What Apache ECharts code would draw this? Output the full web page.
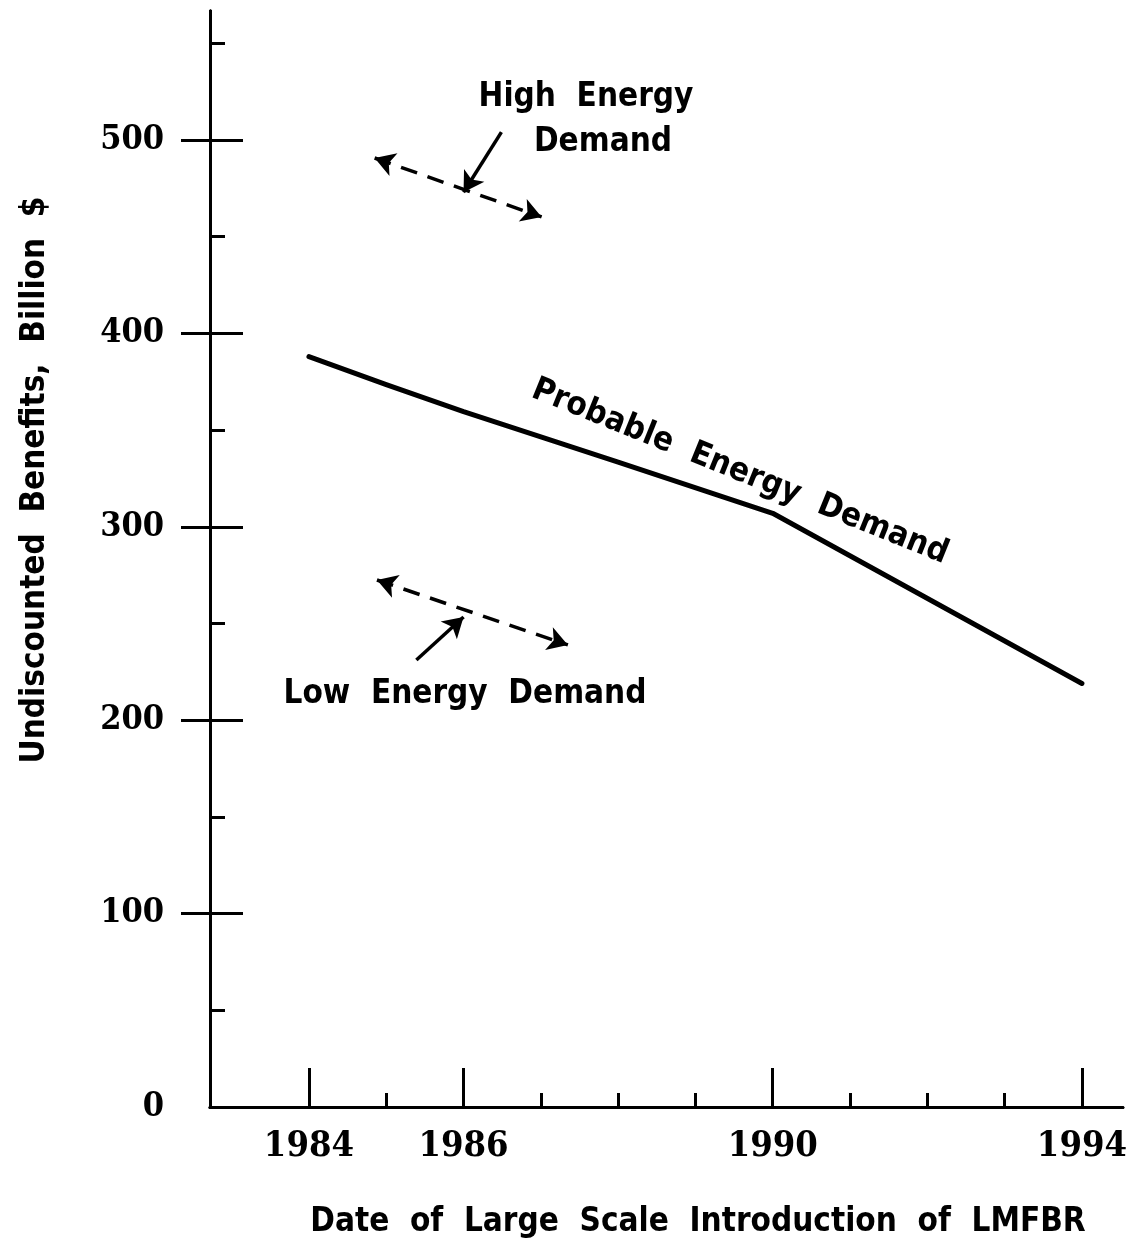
<!DOCTYPE html>
<html>
<head>
<meta charset="utf-8">
<script src="https://cdn.jsdelivr.net/npm/echarts@6/dist/echarts.min.js"></script>
<style>
html,body{margin:0;padding:0;background:#fff;}
#c{width:1130px;height:1247px;}
</style>
</head>
<body>
<div id="c"></div>
<script>
// ---- data ----
var years = [1984, 1985, 1986, 1988, 1990, 1994];
var benefits = [388, 373.5, 359.5, 333.5, 307, 219];
var xMajorTicks = [1984, 1986, 1990, 1994];
var xMinorTicks = [1985, 1987, 1988, 1989, 1991, 1992, 1993];
var yLabels = [0, 100, 200, 300, 400, 500];
var yMajorTicks = [100, 200, 300, 400, 500];
var yMinorTicks = [50, 150, 250, 350, 450, 550];
// annotation arrows in data coordinates [year, value]
var highRange = [[1984.85, 490.7], [1987.01, 460.2]];
var highPointer = [[1986.49, 504.1], [1986.0, 473.0]];
var lowRange = [[1984.88, 272.5], [1987.35, 238.9]];
var lowPointer = [[1985.39, 231.1], [1986.0, 253.4]];

var FONT = "'DejaVu Sans Condensed','Liberation Sans Narrow','DejaVu Sans',sans-serif";
var NUMFONT = "'DejaVu Serif Condensed','DejaVu Sans Condensed','Liberation Sans Narrow',serif";

var chart = echarts.init(document.getElementById('c'), null, {renderer: 'canvas'});

var xMin = 1982.72, xMax = 1994.53, yMin = 0, yMax = 566.7;
var axisLine = {show: true, lineStyle: {color: '#000', width: 3}};

function xAxisDef(ticks, len, labels) {
  return {
    type: 'value', min: xMin, max: xMax, position: 'bottom',
    axisLine: axisLine,
    splitLine: {show: false},
    axisTick: {show: true, inside: true, length: len, customValues: ticks, lineStyle: {color: '#000', width: 3}},
    axisLabel: labels ? {show: true, customValues: labels, margin: 22, color: '#000',
      fontFamily: NUMFONT, fontWeight: 'bold', fontSize: 36, formatter: function(v){return String(v);}} : {show: false}
  };
}
function yAxisDef(ticks, len, inside, labels) {
  return {
    type: 'value', min: yMin, max: yMax, position: 'left',
    axisLine: axisLine,
    splitLine: {show: false},
    axisTick: {show: true, inside: inside, length: len, customValues: ticks, lineStyle: {color: '#000', width: 3}},
    axisLabel: labels ? {show: true, customValues: labels, margin: 46, color: '#000',
      fontFamily: NUMFONT, fontWeight: 'bold', fontSize: 34, formatter: function(v){return String(v);}} : {show: false}
  };
}

var lineData = years.map(function(y, i){ return [y, benefits[i]]; });
var dashStyle = {type: [17, 11], color: '#000', width: 3.5};
var solidStyle = {type: 'solid', color: '#000', width: 3.5};

var option = {
  animation: false,
  backgroundColor: '#fff',
  grid: {left: 210, right: 2, top: 11, bottom: 140, containLabel: false},
  xAxis: [
    xAxisDef(xMajorTicks, 39, xMajorTicks),
    xAxisDef(xMinorTicks, 14, null)
  ],
  yAxis: [
    yAxisDef(yMajorTicks, 33, true, yLabels),
    yAxisDef(yMajorTicks, 29, false, null),
    yAxisDef(yMinorTicks, 15, true, null)
  ],
  series: [
    {
      type: 'line', xAxisIndex: 0, yAxisIndex: 0,
      data: lineData, symbol: 'none', smooth: false,
      lineStyle: {color: '#000', width: 5, cap: 'round', join: 'round'}
    },
    {
      type: 'line', xAxisIndex: 0, yAxisIndex: 0, data: [],
      markLine: {
        silent: true, animation: false,
        label: {show: false},
        symbolSize: [18, 20],
        data: [
          [{coord: highRange[0], symbol: 'arrow', lineStyle: dashStyle}, {coord: highRange[1], symbol: 'arrow'}],
          [{coord: lowRange[0], symbol: 'arrow', lineStyle: dashStyle}, {coord: lowRange[1], symbol: 'arrow'}],
          [{coord: highPointer[0], symbol: 'none', lineStyle: solidStyle}, {coord: highPointer[1], symbol: 'arrow'}],
          [{coord: lowPointer[0], symbol: 'none', lineStyle: solidStyle}, {coord: lowPointer[1], symbol: 'arrow'}]
        ],
        lineStyle: {color: '#000', width: 3.5}
      }
    }
  ],
  graphic: [
    {type: 'text', x: 35, y: 480, rotation: Math.PI / 2,
      style: {text: 'Undiscounted  Benefits,  Billion  $', fill: '#000', font: 'bold 33px ' + FONT, align: 'center', verticalAlign: 'middle'}},
    {type: 'text', x: 698, y: 1222,
      style: {text: 'Date  of  Large  Scale  Introduction  of  LMFBR', fill: '#000', font: 'bold 33px ' + FONT, align: 'center', verticalAlign: 'middle'}},
    {type: 'text', x: 586, y: 97,
      style: {text: 'High  Energy', fill: '#000', font: 'bold 33px ' + FONT, align: 'center', verticalAlign: 'middle'}},
    {type: 'text', x: 603, y: 142,
      style: {text: 'Demand', fill: '#000', font: 'bold 33px ' + FONT, align: 'center', verticalAlign: 'middle'}},
    {type: 'text', x: 465, y: 694,
      style: {text: 'Low  Energy  Demand', fill: '#000', font: 'bold 33px ' + FONT, align: 'center', verticalAlign: 'middle'}},
    {type: 'text', x: 740, y: 472, rotation: -22 * Math.PI / 180,
      style: {text: 'Probable  Energy  Demand', fill: '#000', font: 'bold 33px ' + FONT, align: 'center', verticalAlign: 'middle'}}
  ]
};
chart.setOption(option);
</script>
</body>
</html>
